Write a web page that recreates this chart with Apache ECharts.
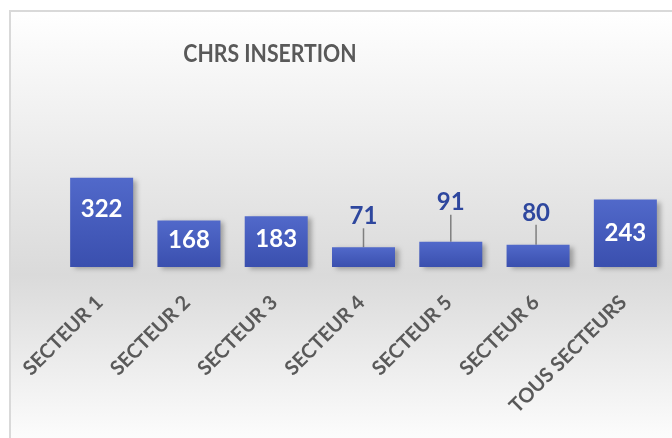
<!DOCTYPE html>
<html>
<head>
<meta charset="utf-8">
<script src="https://cdn.jsdelivr.net/npm/echarts@6/dist/echarts.min.js"></script>
<style>html,body{margin:0;padding:0;background:#fff}#c{width:672px;height:438px}</style>
</head>
<body>
<div id="c"></div>
<script>
const categories = ['SECTEUR 1','SECTEUR 2','SECTEUR 3','SECTEUR 4','SECTEUR 5','SECTEUR 6','TOUS SECTEURS'];
const values = [322, 168, 183, 71, 91, 80, 243];
const titleText = 'CHRS INSERTION';

// label styling (positions only)
const outsideIdx = {3: true, 4: true, 5: true};
const labelShift = {0: {dy: -13, dx: 0}, 1: {dy: -3, dx: 0}, 2: {dy: -2, dx: 0},
  3: {dy: -14, dx: 0}, 4: {dy: -22, dx: 0}, 5: {dy: -15, dx: -2}};

const chart = echarts.init(document.getElementById('c'), null, {renderer: 'canvas'});
const barGrad = new echarts.graphic.LinearGradient(0, 0, 0, 1, [
  {offset: 0, color: '#5169CA'}, {offset: 1, color: '#3A4FAE'}
]);
const data = values.map((v, i) => {
  const item = {value: v};
  if (outsideIdx[i]) {
    item.label = {position: 'top', distance: 5, color: '#2E479E'};
    item.labelLine = {show: true};
  } else {
    item.label = {position: 'inside', color: '#ffffff'};
    item.labelLine = {show: false};
  }
  return item;
});
chart.setOption({
  animation: false,
  graphic: [{
    type: 'rect', left: 9, top: 10, z: -10, silent: true,
    shape: {width: 700, height: 440},
    style: {
      fill: new echarts.graphic.LinearGradient(0, 0, 0, 1, [
        {offset: 0, color: '#ffffff'}, {offset: 0.6, color: '#dadada'}, {offset: 1, color: '#ffffff'}
      ]),
      stroke: '#d9d9d9', lineWidth: 2
    }
  }, {
    type: 'text', x: 270, y: 54, scaleX: 0.85, silent: true,
    style: {
      text: titleText, align: 'center', verticalAlign: 'middle',
      font: 'bold 25px Lato', fill: '#595959'
    }
  }],
  grid: {left: 58, right: 3, top: 156, bottom: 171},
  xAxis: {
    type: 'category', data: categories,
    axisLine: {show: false}, axisTick: {show: false},
    axisLabel: {rotate: 45, margin: 30, interval: 0, padding: [0, 3, 0, 0],
      fontFamily: 'Lato', fontWeight: 'bold', fontSize: 20, color: '#595959'}
  },
  yAxis: {type: 'value', min: 0, max: 400, show: false, splitLine: {show: false}},
  series: [{
    type: 'bar', data: data, barWidth: 63,
    itemStyle: {color: barGrad, shadowColor: 'rgba(0,0,0,0.3)', shadowBlur: 5, shadowOffsetX: 4, shadowOffsetY: 2},
    label: {show: true, fontFamily: 'Lato', fontWeight: 'bold', fontSize: 24},
    labelLine: {lineStyle: {color: '#7f7f7f', width: 1.5}},
    labelLayout: function (p) {
      const o = labelShift[p.dataIndex];
      return o ? {dy: o.dy, dx: o.dx} : {};
    }
  }]
});
</script>
</body>
</html>
